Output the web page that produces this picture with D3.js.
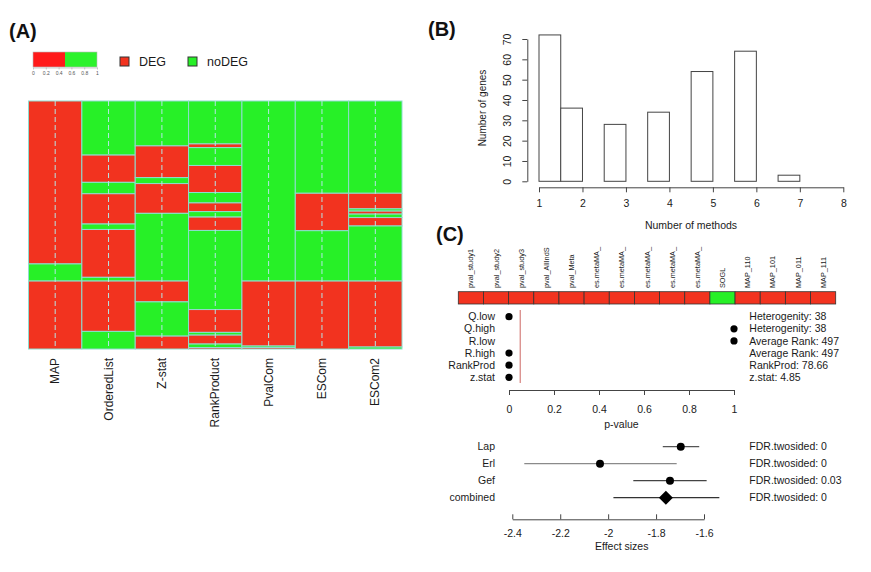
<!DOCTYPE html>
<html><head><meta charset="utf-8">
<script src="https://cdn.jsdelivr.net/npm/d3@7"></script>
<style>
body{margin:0;background:#fff;}
svg{display:block;font-family:"Liberation Sans",Arial,Helvetica,sans-serif;}
</style></head><body>
<svg id="chart" width="871" height="572"></svg>
<script>
// ================= DATA =================
// Panel A: mosaic of DEG / noDEG calls per method (breakpoints in % of genes, top to bottom)
const methods = ["MAP","OrderedList","Z-stat","RankProduct","PvalCom","ESCom","ESCom2"];
const statusLevels = ["DEG","noDEG"];
const firstStatus = ["DEG","noDEG","noDEG","noDEG","noDEG","noDEG","noDEG"];
const breaksMAP = [0,65.7,72.6,100];
const breaksOrderedList = [0,21.8,32.8,37.4,49.6,51.8,71.1,72.6,92.9,100];
const breaksZstat = [0,18.1,30.9,33.3,45.3,72.6,81.0,94.8,100];
const breaksRankProduct = [0,17.3,18.8,26.0,36.9,41.1,44.6,46.8,52.2,84.1,93.3,94.4,98.0,99.4,100];
const breaksPvalCom = [0,72.6,98.8,99.4,100];
const breaksESCom = [0,37.2,52.3,72.6,100];
const breaksESCom2 = [0,37.2,43.5,44.4,45.6,47.0,50.4,72.6,99.2,100];
const legendBarTicks = [0,0.2,0.4,0.6,0.8,1];

// Panel B: histogram of number of methods
const binStart = [1,1.5,2.5,3.5,4.5,5.5,6.5];
const binCount = [72,36,28,34,54,64,3];
const histXTicks = [1,2,3,4,5,6,7,8];
const histYTicks = [0,10,20,30,40,50,60,70];

// Panel C: strip of tests
const stripLabels = ["pval_study1","pval_study2","pval_study3","pval_AllIndS","pval_Meta",
  "es.metaMA_","es.metaMA_","es.metaMA_","es.metaMA_","es.metaMA_","SOGL",
  "MAP_110","MAP_101","MAP_011","MAP_111"];
const stripStatus = ["DEG","DEG","DEG","DEG","DEG","DEG","DEG","DEG","DEG","DEG","noDEG","DEG","DEG","DEG","DEG"];

// Panel C: p-values
const pvalLabels = ["Q.low","Q.high","R.low","R.high","RankProd","z.stat"];
const pvalValues = [0,1,1,0,0,0];
const pvalNotes = ["Heterogenity: 38","Heterogenity: 38","Average Rank: 497","Average Rank: 497","RankProd: 78.66","z.stat: 4.85"];
const pvalTicks = [0,0.2,0.4,0.6,0.8,1];
const pvalCutoff = 0.05;

// Panel C: forest plot
const forestLabels = ["Lap","Erl","Gef","combined"];
const forestEst = [-1.697,-2.034,-1.742,-1.759];
const forestLow = [-1.772,-2.350,-1.895,-1.978];
const forestHigh = [-1.620,-1.714,-1.589,-1.536];
const forestNotes = ["FDR.twosided: 0","FDR.twosided: 0","FDR.twosided: 0.03","FDR.twosided: 0"];
const forestTicks = [-2.4,-2.2,-2,-1.8,-1.6];

// ================= DRAW =================
const RED = "#f2331f", GREEN = "#27f027", BORDER = "#8fdccf";
const AX = "#444", TXT = "#1a1a1a";
const plain = d => String(d);
const svg = d3.select("#chart");
const color = d3.scaleOrdinal().domain(statusLevels).range([RED, GREEN]);

function panelTitle(t, x, y) {
  svg.append("text").attr("x", x).attr("y", y).attr("font-size", 20)
    .attr("font-weight", "bold").attr("fill", "#111").text(t);
}
function styleAxis(g, fs) {
  g.select(".domain").attr("stroke", AX);
  g.selectAll(".tick line").attr("stroke", AX);
  g.selectAll(".tick text").attr("fill", TXT).attr("font-size", fs)
    .attr("font-family", '"Liberation Sans",Arial,sans-serif');
}

// ---------- Panel A ----------
panelTitle("(A)", 9, 38);
const lb = d3.scaleLinear().domain([0,1]).range([33,97]);
svg.append("rect").attr("x", lb(0)).attr("y", 52).attr("width", lb(0.5)-lb(0)).attr("height", 15).attr("fill", "#ff1a1a");
svg.append("rect").attr("x", lb(0.5)).attr("y", 52).attr("width", lb(1)-lb(0.5)).attr("height", 15).attr("fill", "#2cf22c");
svg.append("rect").attr("x", lb(0)).attr("y", 52).attr("width", lb(1)-lb(0)).attr("height", 15).attr("fill", "none").attr("stroke", "#bbb").attr("stroke-width", 0.6);
const lbAx = svg.append("g").attr("transform", "translate(0,67.5)")
  .call(d3.axisBottom(lb).tickValues(legendBarTicks).tickSize(2).tickPadding(2).tickSizeOuter(0).tickFormat(plain));
lbAx.select(".domain").attr("stroke", "#999").attr("stroke-width", 0.5);
lbAx.selectAll(".tick line").attr("stroke", "#999").attr("stroke-width", 0.5);
lbAx.selectAll(".tick text").attr("font-size", 5).attr("fill", "#555");

const keyX = [120, 188];
statusLevels.forEach((s, i) => {
  svg.append("rect").attr("x", keyX[i]).attr("y", 57).attr("width", 9).attr("height", 9)
    .attr("fill", color(s)).attr("stroke", "#333").attr("stroke-width", 1);
  svg.append("text").attr("x", keyX[i] + 19).attr("y", 66).attr("font-size", 12.5)
    .attr("fill", TXT).text(s);
});

const breaksByMethod = [breaksMAP, breaksOrderedList, breaksZstat, breaksRankProduct, breaksPvalCom, breaksESCom, breaksESCom2];
const xm = d3.scaleBand().domain(methods).range([28.5, 402]).padding(0);
const ym = d3.scaleLinear().domain([0,100]).range([101, 349]);
methods.forEach((m, i) => {
  const b = breaksByMethod[i];
  const start = statusLevels.indexOf(firstStatus[i]);
  const segs = d3.range(b.length - 1).map(j => ({y0: b[j], y1: b[j+1], s: statusLevels[(start + j) % 2]}));
  svg.append("g").selectAll("rect").data(segs).join("rect")
    .attr("x", xm(m)).attr("y", d => ym(d.y0))
    .attr("width", xm.bandwidth()).attr("height", d => ym(d.y1) - ym(d.y0))
    .attr("fill", d => color(d.s)).attr("stroke", BORDER).attr("stroke-width", 1);
  svg.append("line").attr("x1", xm(m) + xm.bandwidth()/2).attr("x2", xm(m) + xm.bandwidth()/2)
    .attr("y1", ym(0)).attr("y2", ym(100))
    .attr("stroke", "#b5e6e6").attr("stroke-width", 1).attr("stroke-dasharray", "5,3");
  svg.append("text")
    .attr("transform", `translate(${xm(m) + xm.bandwidth()/2 + 4},358) rotate(-90)`)
    .attr("text-anchor", "end").attr("font-size", 12).attr("fill", TXT).text(m);
});

// ---------- Panel B ----------
panelTitle("(B)", 428, 36);
const xh = d3.scaleLinear().domain([1,8]).range([539, 843.3]);
const yh = d3.scaleLinear().domain([0,70]).range([181.3, 39]);
svg.append("g").selectAll("rect").data(binStart).join("rect")
  .attr("x", (d) => xh(d)).attr("width", d => xh(d + 0.5) - xh(d))
  .attr("y", (d, i) => yh(binCount[i])).attr("height", (d, i) => yh(0) - yh(binCount[i]))
  .attr("fill", "#fff").attr("stroke", "#444").attr("stroke-width", 1);
const hx = svg.append("g").attr("transform", "translate(0,187.3)")
  .call(d3.axisBottom(xh).tickValues(histXTicks).tickSize(5).tickPadding(7).tickSizeOuter(0).tickFormat(plain));
styleAxis(hx, 10.5);
const hy = svg.append("g").attr("transform", "translate(527.3,0)")
  .call(d3.axisLeft(yh).tickValues(histYTicks).tickSize(5).tickSizeOuter(0).tickFormat(plain));
styleAxis(hy, 10.5);
hy.selectAll(".tick text").attr("x", 0).attr("dy", 0).attr("text-anchor", "middle")
  .attr("transform", "translate(-16,0) rotate(-90)");
svg.append("text").attr("transform", "translate(486,108) rotate(-90)")
  .attr("text-anchor", "middle").attr("font-size", 10).attr("fill", TXT).text("Number of genes");
svg.append("text").attr("x", 691).attr("y", 229).attr("text-anchor", "middle")
  .attr("font-size", 10.5).attr("fill", TXT).text("Number of methods");

// ---------- Panel C ----------
panelTitle("(C)", 436, 241);
const xs = d3.scaleBand().domain(d3.range(stripLabels.length)).range([458.3, 835.7]);
svg.append("g").selectAll("rect").data(stripStatus).join("rect")
  .attr("x", (d, i) => xs(i)).attr("y", 291.7).attr("width", xs.bandwidth()).attr("height", 12.3)
  .attr("fill", d => color(d)).attr("stroke", "#333").attr("stroke-width", 0.8);
svg.append("g").selectAll("text").data(stripLabels).join("text")
  .attr("transform", (d, i) => `translate(${xs(i) + xs.bandwidth()/2 + 2.6},288) rotate(-90)`)
  .attr("font-size", 7.3).attr("fill", TXT).text(d => d);

const xp = d3.scaleLinear().domain([0,1]).range([509, 734]);
const yp = d3.scalePoint().domain(pvalLabels).range([316.7, 377.3]);
svg.append("line").attr("x1", xp(pvalCutoff)).attr("x2", xp(pvalCutoff))
  .attr("y1", 310).attr("y2", 383).attr("stroke", "#d98a86").attr("stroke-width", 1.3);
svg.append("g").selectAll("circle").data(pvalValues).join("circle")
  .attr("cx", d => xp(d)).attr("cy", (d, i) => yp(pvalLabels[i])).attr("r", 3.6).attr("fill", "#000");
svg.append("g").selectAll("text").data(pvalLabels).join("text")
  .attr("x", 495).attr("y", d => yp(d)).attr("dy", "0.35em").attr("text-anchor", "end")
  .attr("font-size", 10.5).attr("fill", TXT).text(d => d);
svg.append("g").selectAll("text").data(pvalNotes).join("text")
  .attr("x", 749.3).attr("y", (d, i) => yp(pvalLabels[i])).attr("dy", "0.35em")
  .attr("font-size", 10.5).attr("fill", TXT).text(d => d);
const px = svg.append("g").attr("transform", "translate(0,390)")
  .call(d3.axisBottom(xp).tickValues(pvalTicks).tickSize(5).tickPadding(11).tickSizeOuter(0).tickFormat(plain));
styleAxis(px, 10.5);
svg.append("text").attr("x", 621.5).attr("y", 428).attr("text-anchor", "middle")
  .attr("font-size", 10.5).attr("fill", TXT).text("p-value");

const xf = d3.scaleLinear().domain([-2.4,-1.6]).range([512.3, 704]);
const yf = d3.scalePoint().domain(forestLabels).range([446.7, 497.7]);
const ciColors = ["#555","#8a8a8a","#444","#333"];
forestLabels.forEach((l, i) => {
  svg.append("line").attr("x1", xf(forestLow[i])).attr("x2", xf(forestHigh[i]))
    .attr("y1", yf(l)).attr("y2", yf(l)).attr("stroke", ciColors[i]).attr("stroke-width", 1.3);
});
forestLabels.forEach((l, i) => {
  const cx = xf(forestEst[i]), cy = yf(l);
  if (l === "combined") {
    svg.append("path").attr("d", `M${cx-7},${cy}L${cx},${cy-7}L${cx+7},${cy}L${cx},${cy+7}Z`).attr("fill", "#000");
  } else {
    svg.append("circle").attr("cx", cx).attr("cy", cy).attr("r", 4).attr("fill", "#000");
  }
});
svg.append("g").selectAll("text").data(forestLabels).join("text")
  .attr("x", 495).attr("y", d => yf(d)).attr("dy", "0.35em").attr("text-anchor", "end")
  .attr("font-size", 10.5).attr("fill", TXT).text(d => d);
svg.append("g").selectAll("text").data(forestNotes).join("text")
  .attr("x", 749.3).attr("y", (d, i) => yf(forestLabels[i])).attr("dy", "0.35em")
  .attr("font-size", 10.5).attr("fill", TXT).text(d => d);
const fx = svg.append("g").attr("transform", "translate(0,519.3)")
  .call(d3.axisBottom(xf).tickValues(forestTicks).tickSize(5).tickPadding(5.5).tickSizeOuter(0).tickFormat(plain));
styleAxis(fx, 10.5);
fx.selectAll(".tick line").attr("y1", -5).attr("y2", 0);
svg.append("text").attr("x", 621.7).attr("y", 550).attr("text-anchor", "middle")
  .attr("font-size", 10.5).attr("fill", TXT).text("Effect sizes");
</script>
</body></html>
